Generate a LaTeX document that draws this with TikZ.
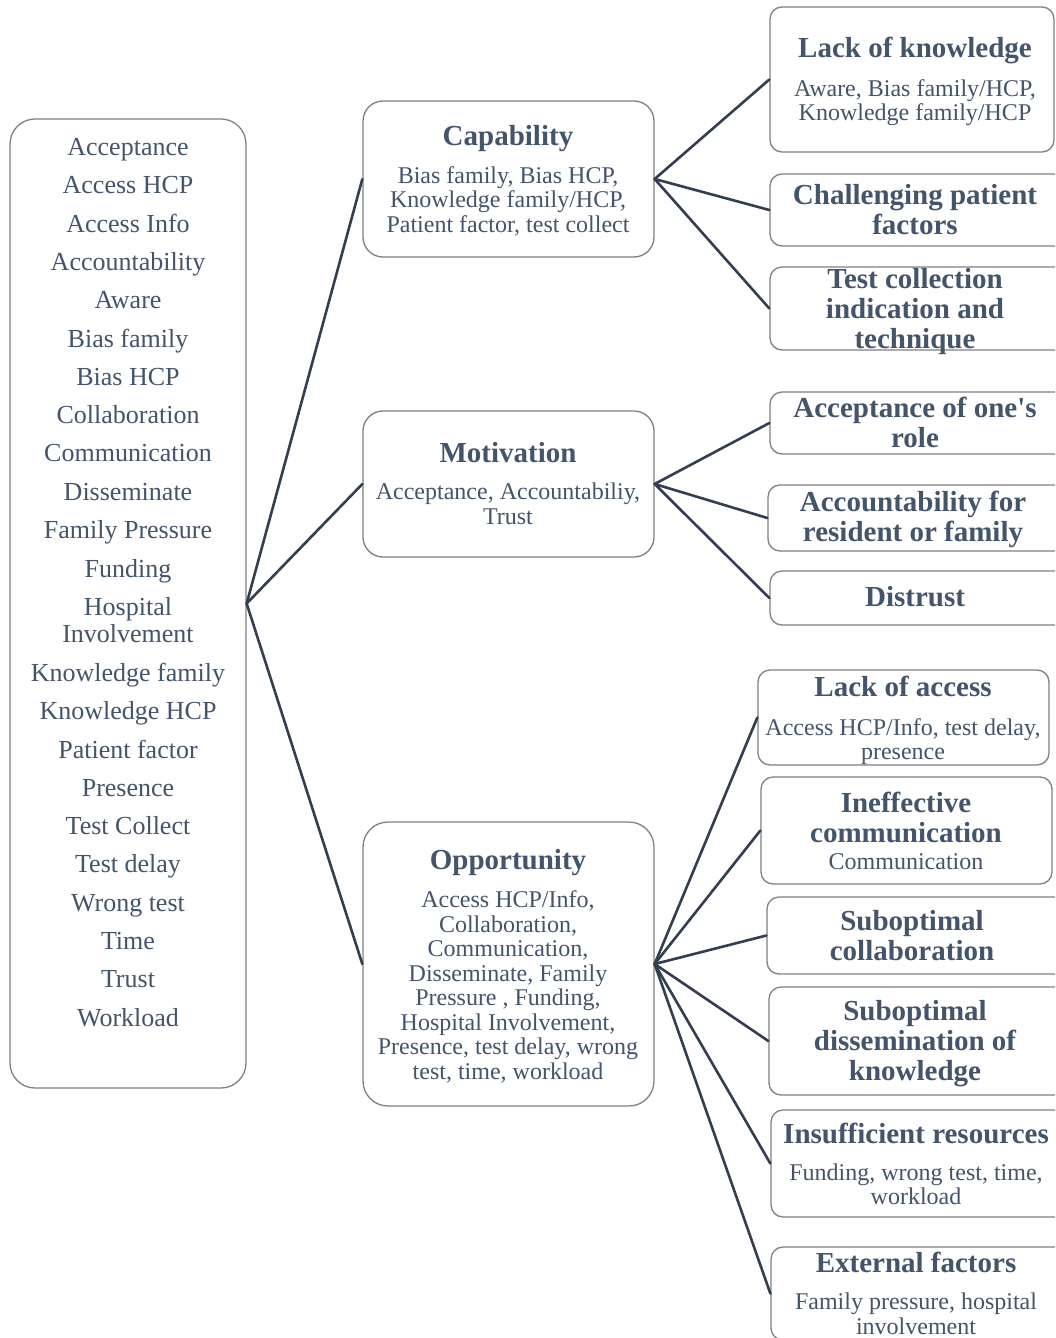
\documentclass[tikz,border=0pt]{standalone}
\usepackage{fontspec}
\setmainfont{Liberation Serif}
\usetikzlibrary{fit}
\definecolor{txt}{HTML}{44546A}
\definecolor{edge}{HTML}{333F50}
\definecolor{frame}{HTML}{808080}
\tikzset{
  box/.style={draw=frame, line width=1.3pt, rounded corners=#1, inner sep=0pt},
  box/.default=12pt,
  conn/.style={draw=edge, line width=2.6pt, line cap=round},
  lbl/.style={text=txt, align=center, inner sep=0pt, yshift=-3.5pt,
    execute at begin node=\strut, execute at end node=\strut},
  ttl/.style={lbl, font=\bfseries\fontsize{29}{30}\selectfont},
  bdy/.style={lbl, font=\fontsize{24}{24.5}\selectfont},
  itm/.style={lbl, font=\fontsize{26}{27}\selectfont},
}
\begin{document}
\begin{tikzpicture}[x=1pt,y=-1pt]
\clip (0,0) rectangle (1055,1338);
\fill[white] (0,0) rectangle (1055,1338);

% construct list
\node[box=25pt, fit={(10,119) (246,1088)}] (list) {};
\foreach \yy/\tt in {147/Acceptance, 185/Access HCP, 224/Access Info, 262/Accountability,
  300/Aware, 339/Bias family, 377/Bias HCP, 415/Collaboration, 453/Communication,
  492/Disseminate, 530/Family Pressure, 569/Funding, 673/Knowledge family,
  711/Knowledge HCP, 750/Patient factor, 788/Presence, 826/Test Collect,
  864/Test delay, 903/Wrong test, 941/Time, 979/Trust, 1018/Workload}
  \node[itm] at (128,\yy) {\tt};
\node[itm] at (128,620.5) {Hospital\\Involvement};

% COM-B components
\node[box=20pt, fit={(363,101) (654,257)}] (cap) {};
\node[ttl] at (508,136) {Capability};
\node[bdy] at (508,199.5) {Bias family, Bias HCP,\\Knowledge family/HCP,\\Patient factor, test collect};

\node[box=20pt, fit={(363,411) (654,557)}] (mot) {};
\node[ttl] at (508,453) {Motivation};
\node[bdy] at (508,504) {Acceptance, Accountabiliy,\\Trust};

\node[box=25pt, fit={(363,822) (654,1106)}] (opp) {};
\node[ttl] at (508,860) {Opportunity};
\node[bdy] at (508,985) {Access HCP/Info,\\Collaboration,\\Communication,\\Disseminate, Family\\Pressure , Funding,\\Hospital Involvement,\\Presence, test delay, wrong\\test, time, workload};

% themes under capability
\node[box, fit={(770,7) (1054,152)}] (k1) {};
\node[ttl] at (915,48) {Lack of knowledge};
\node[bdy] at (915,100) {Aware, Bias family/HCP,\\Knowledge family/HCP};

\node[box, fit={(770,174) (1075,246)}] (k2) {};
\node[ttl] at (915,210) {Challenging patient\\factors};

\node[box, fit={(770,267) (1075,350)}] (k3) {};
\node[ttl] at (915,309) {Test collection\\indication and\\technique};

% themes under motivation
\node[box, fit={(770,392) (1075,454)}] (m1) {};
\node[ttl] at (915,423) {Acceptance of one\textquotesingle s\\role};

\node[box, fit={(768,485) (1075,551)}] (m2) {};
\node[ttl] at (913,517) {Accountability for\\resident or family};

\node[box, fit={(770,571) (1075,625)}] (m3) {};
\node[ttl] at (915,597) {Distrust};

% themes under opportunity
\node[box, fit={(758,670) (1049,765)}] (o1) {};
\node[ttl] at (903,687) {Lack of access};
\node[bdy] at (903,739) {Access HCP/Info, test delay,\\presence};

\node[box, fit={(761,777) (1052,884)}] (o2) {};
\node[ttl] at (906,818) {Ineffective\\communication};
\node[bdy] at (906,861) {Communication};

\node[box, fit={(767,897) (1075,974)}] (o3) {};
\node[ttl] at (912,936) {Suboptimal\\collaboration};

\node[box, fit={(769,987) (1075,1095)}] (o4) {};
\node[ttl] at (915,1041) {Suboptimal\\dissemination of\\knowledge};

\node[box, fit={(771,1110) (1075,1217)}] (o5) {};
\node[ttl] at (916,1134) {Insufficient resources};
\node[bdy] at (916,1184.5) {Funding, wrong test, time,\\workload};

\node[box, fit={(771,1247) (1075,1340)}] (o6) {};
\node[ttl] at (916,1263) {External factors};
\node[bdy] at (916,1314) {Family pressure, hospital\\involvement};

% connectors
\foreach \t in {cap,mot,opp} \draw[conn] (list.east) -- (\t.west);
\foreach \t in {k1,k2,k3} \draw[conn] (cap.east) -- (\t.west);
\foreach \t in {m1,m2,m3} \draw[conn] (mot.east) -- (\t.west);
\foreach \t in {o1,o2,o3,o4,o5,o6} \draw[conn] (opp.east) -- (\t.west);
\end{tikzpicture}
\end{document}
